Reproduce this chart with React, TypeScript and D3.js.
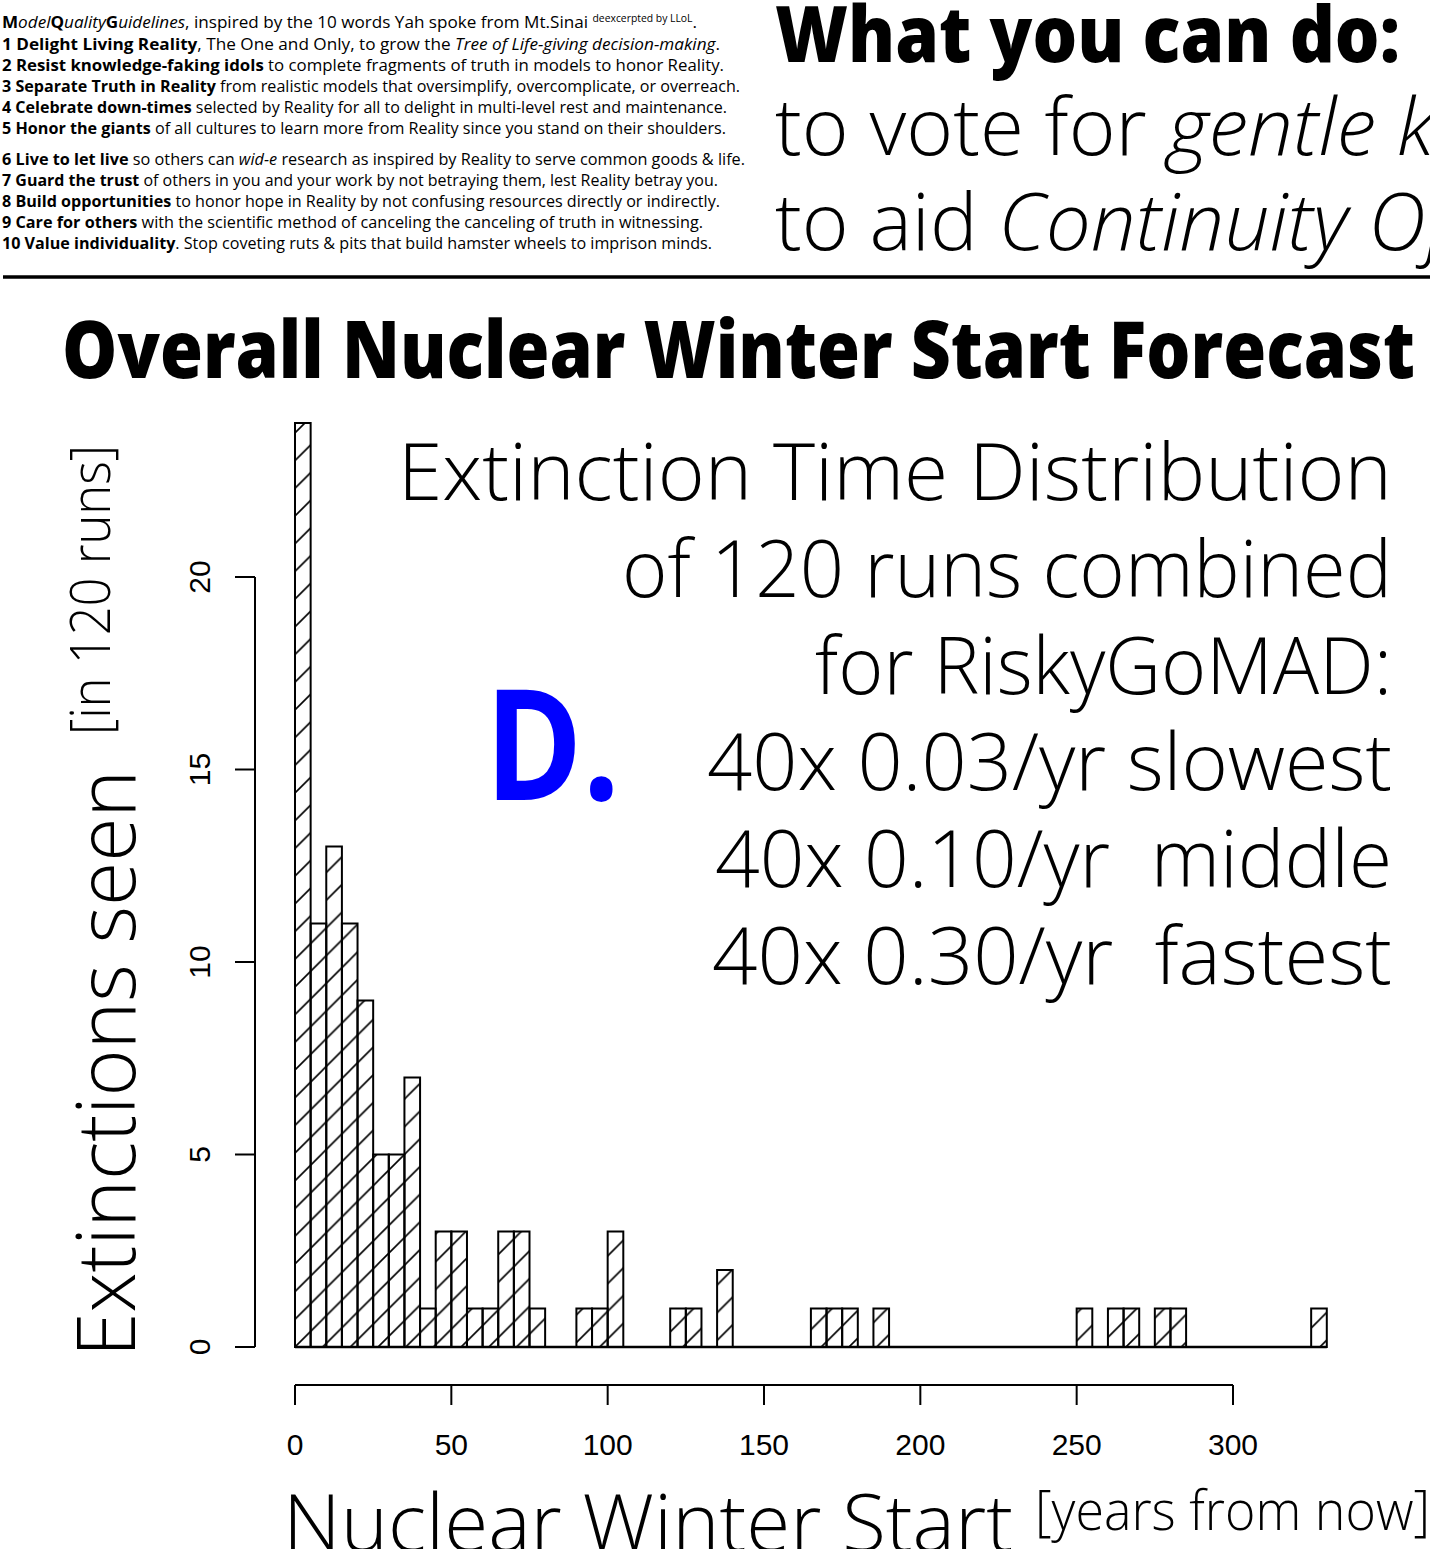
import React from "react";
import * as d3 from "d3";

// ---- data ----
const binWidth = 5;
const counts: number[] = [
  24, 11, 13, 11, 9, 5, 5, 7, 1, 3, 3, 1, 1, 3, 3, 1, 0, 0, 1, 1, 3, 0, 0, 0, 1, 1, 0, 2,
  0, 0, 0, 0, 0, 1, 1, 1, 0, 1, 0, 0, 0, 0, 0, 0, 0, 0, 0, 0, 0, 0, 1, 0, 1, 1, 0, 1, 1,
  0, 0, 0, 0, 0, 0, 0, 0, 1,
];
const xTicks = [0, 50, 100, 150, 200, 250, 300];
const yTicks = [0, 5, 10, 15, 20];

const titleText = "Overall Nuclear Winter Start Forecast";
const annotationLines = [
  "Extinction Time Distribution",
  "of 120 runs combined",
  "for RiskyGoMAD:",
  "40x 0.03/yr slowest",
  "40x 0.10/yr  middle",
  "40x 0.30/yr  fastest",
];
const annotationLeft = [398, 622, 815, 707, 715, 712];
const annotationBase = [500, 597, 694, 790, 887, 984];

type Seg = { t: string; b?: boolean; i?: boolean; sup?: boolean };
const guidelines: Seg[][] = [
  [
    { t: "M", b: true }, { t: "odel", i: true }, { t: "Q", b: true }, { t: "uality", i: true },
    { t: "G", b: true }, { t: "uidelines", i: true },
    { t: ", inspired by the 10 words Yah spoke from Mt.Sinai " },
    { t: "deexcerpted by LLoL", sup: true }, { t: "." },
  ],
  [
    { t: "1 Delight Living Reality", b: true }, { t: ", The One and Only, to grow the " },
    { t: "Tree of Life-giving decision-making", i: true }, { t: "." },
  ],
  [{ t: "2 Resist knowledge-faking idols", b: true }, { t: " to complete fragments of truth in models to honor Reality." }],
  [{ t: "3 Separate Truth in Reality", b: true }, { t: " from realistic models that oversimplify, overcomplicate, or overreach." }],
  [{ t: "4 Celebrate down-times", b: true }, { t: " selected by Reality for all to delight in multi-level rest and maintenance." }],
  [{ t: "5 Honor the giants", b: true }, { t: " of all cultures to learn more from Reality since you stand on their shoulders." }],
  [
    { t: "6 Live to let live", b: true }, { t: " so others can " }, { t: "wid-e", i: true },
    { t: " research as inspired by Reality to serve common goods & life." },
  ],
  [{ t: "7 Guard the trust", b: true }, { t: " of others in you and your work by not betraying them, lest Reality betray you." }],
  [{ t: "8 Build opportunities", b: true }, { t: " to honor hope in Reality by not confusing resources directly or indirectly." }],
  [{ t: "9 Care for others", b: true }, { t: " with the scientific method of canceling the canceling of truth in witnessing." }],
  [{ t: "10 Value individuality", b: true }, { t: ". Stop coveting ruts & pits that build hamster wheels to imprison minds." }],
];
const guideBase = [28, 50, 71, 92, 113, 134, 165, 186, 207, 228, 249];
const guideRight = [697, 720, 724, 740, 727, 726, 745, 718, 720, 703, 712];

const FONT = "'Open Sans', 'Noto Sans', sans-serif";

export default function App() {
  const x = d3.scaleLinear().domain([0, 300]).range([295, 1233]);
  const y = d3.scaleLinear().domain([0, 20]).range([1347, 577]);
  const bins = counts.map((c, i) => ({ x0: i * binWidth, x1: (i + 1) * binWidth, c }));
  const lastEdge = counts.length * binWidth;

  return (
    <div style={{ position: "absolute", left: 0, top: 0, width: 1430, height: 1549, overflow: "hidden" }}>
      <style>{`body{margin:0}`}</style>
      <svg width={1430} height={1549} style={{ display: "block", background: "#fff" }}>
        <defs>
          <pattern id="hatch" patternUnits="userSpaceOnUse" width={27.7} height={27.7} x={295} y={1347}>
            <path
              d="M-2,2 L2,-2 M0,27.7 L27.7,0 M25.7,29.7 L29.7,25.7"
              stroke="#000"
              strokeWidth={1.6}
            />
          </pattern>
        </defs>

        {/* guidelines block */}
        {guidelines.map((line, li) => (
          <text
            key={li}
            x={2}
            y={guideBase[li]}
            fontFamily={FONT}
            fontSize={16.5}
            fill="#000"
            textLength={guideRight[li] - 2}
            lengthAdjust="spacingAndGlyphs"
          >
            {line.map((s, si) => (
              <tspan
                key={si}
                fontWeight={s.b ? 700 : 400}
                fontStyle={s.i ? "italic" : "normal"}
                fontSize={s.sup ? 10 : undefined}
                dy={s.sup ? -6 : si > 0 && line[si - 1].sup ? 6 : undefined}
              >
                {s.t}
              </tspan>
            ))}
          </text>
        ))}

        {/* What you can do */}
        <text x={775} y={62} fontFamily={FONT} fontWeight={800} fontSize={78} textLength={625} lengthAdjust="spacingAndGlyphs">
          What you can do:
        </text>
        <text x={775} y={155} fontFamily={FONT} fontWeight={300} fontSize={80}>
          <tspan>to vote for </tspan>
          <tspan fontStyle="italic">gentle k</tspan>
        </text>
        <text x={775} y={250} fontFamily={FONT} fontWeight={300} fontSize={80}>
          <tspan>to aid </tspan>
          <tspan fontStyle="italic">Continuity Of</tspan>
        </text>

        <line x1={3} x2={1430} y1={277} y2={277} stroke="#000" strokeWidth={3.5} />

        {/* title */}
        <text x={62} y={378} fontFamily={FONT} fontWeight={800} fontSize={79} textLength={1353} lengthAdjust="spacingAndGlyphs">
          {titleText}
        </text>

        {/* bars */}
        <line x1={x(0)} x2={x(lastEdge)} y1={y(0)} y2={y(0)} stroke="#000" strokeWidth={2.5} />
        {bins.filter((b) => b.c > 0).map((b, i) => (
          <rect
            key={i}
            x={x(b.x0)}
            y={y(b.c)}
            width={x(b.x1) - x(b.x0)}
            height={y(0) - y(b.c)}
            fill="url(#hatch)"
            stroke="#000"
            strokeWidth={2}
          />
        ))}

        {/* y axis */}
        <line x1={255} x2={255} y1={y(20)} y2={y(0)} stroke="#000" strokeWidth={2} />
        {yTicks.map((t) => (
          <g key={t}>
            <line x1={235} x2={255} y1={y(t)} y2={y(t)} stroke="#000" strokeWidth={2} />
            <text
              transform={`translate(210,${y(t)}) rotate(-90)`}
              textAnchor="middle"
              fontFamily="'Liberation Sans', Arial, sans-serif"
              fontSize={30}
            >
              {t}
            </text>
          </g>
        ))}

        {/* x axis */}
        <line x1={x(0)} x2={x(300)} y1={1385} y2={1385} stroke="#000" strokeWidth={2} />
        {xTicks.map((t) => (
          <g key={t}>
            <line x1={x(t)} x2={x(t)} y1={1385} y2={1405} stroke="#000" strokeWidth={2} />
            <text x={x(t)} y={1455} textAnchor="middle" fontFamily="'Liberation Sans', Arial, sans-serif" fontSize={30}>
              {t}
            </text>
          </g>
        ))}

        {/* annotation */}
        {annotationLines.map((s, i) => (
          <text
            key={i}
            x={annotationLeft[i]}
            y={annotationBase[i]}
            fontFamily={FONT}
            fontWeight={300}
            fontSize={80}
            textLength={1392 - annotationLeft[i]}
            lengthAdjust="spacingAndGlyphs"
            style={{ whiteSpace: "pre" }}
          >
            {s}
          </text>
        ))}

        {/* D. */}
        <text x={485} y={800} fontFamily={FONT} fontWeight={700} fontSize={155} fill="#0000ff" textLength={135} lengthAdjust="spacingAndGlyphs">
          D.
        </text>

        {/* y label */}
        <g transform="translate(135,1357) rotate(-90)">
          <text x={0} y={0} fontFamily={FONT} fontWeight={300} fontSize={82} textLength={587} lengthAdjust="spacingAndGlyphs">
            Extinctions seen
          </text>
          <text x={622} y={-25} fontFamily={FONT} fontWeight={300} fontSize={55} textLength={290} lengthAdjust="spacingAndGlyphs">
            [in 120 runs]
          </text>
        </g>

        {/* x label */}
        <text x={283} y={1551} fontFamily={FONT} fontWeight={300} fontSize={80} textLength={730} lengthAdjust="spacingAndGlyphs">
          Nuclear Winter Start
        </text>
        <text x={1035} y={1530} fontFamily={FONT} fontWeight={300} fontSize={55} textLength={395} lengthAdjust="spacingAndGlyphs">
          [years from now]
        </text>
      </svg>
    </div>
  );
}
